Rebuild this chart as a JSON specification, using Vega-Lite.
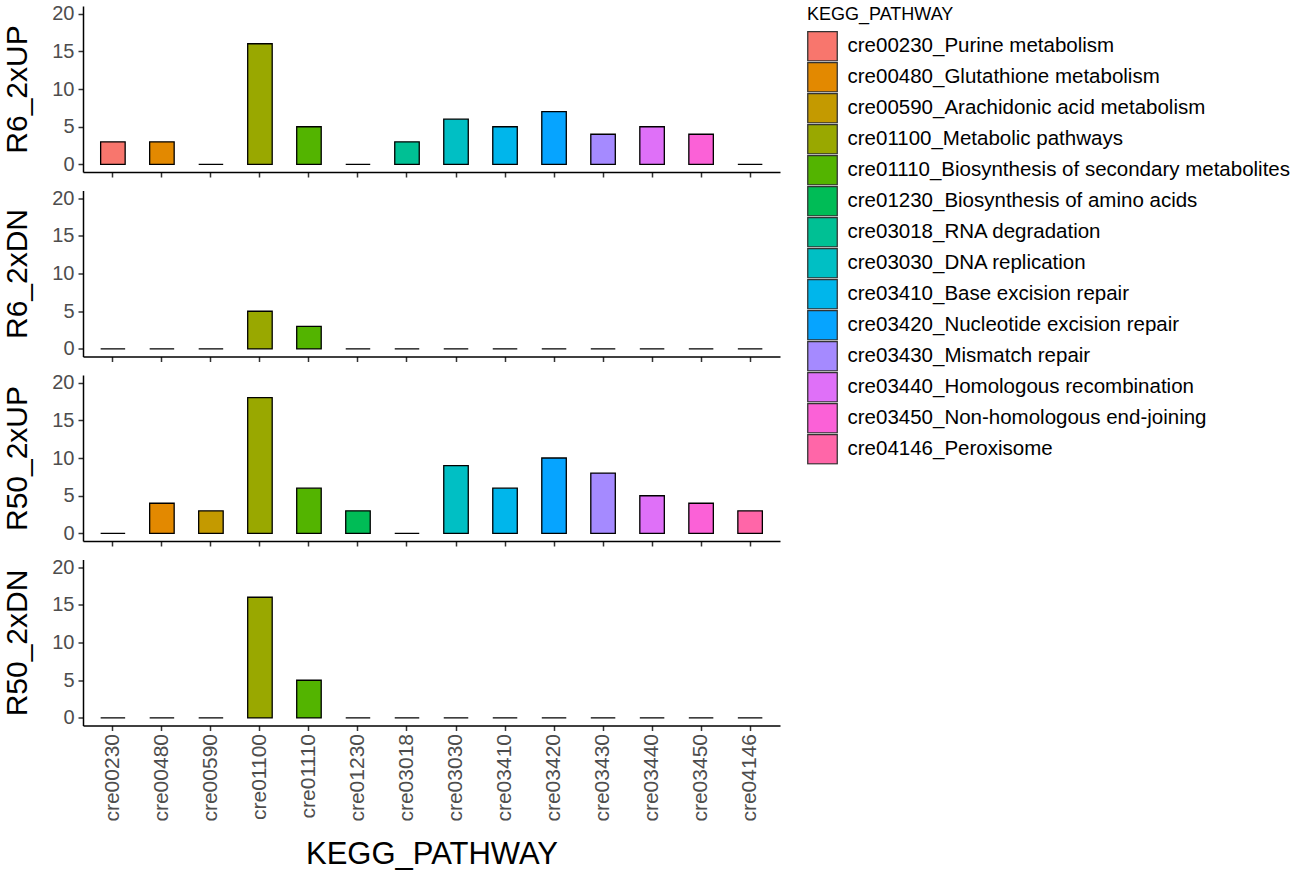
{
  "$schema": "https://vega.github.io/schema/vega-lite/v6.json",
  "background": "white",
  "padding": {"left": 2, "top": 3, "right": 5, "bottom": 3},
  "spacing": 9.5,
  "datasets": {
    "counts": [
      {"group": "R6_2xUP", "code": "cre00230", "pathway": "cre00230_Purine metabolism", "n": 3},
      {"group": "R6_2xUP", "code": "cre00480", "pathway": "cre00480_Glutathione metabolism", "n": 3},
      {"group": "R6_2xUP", "code": "cre00590", "pathway": "cre00590_Arachidonic acid metabolism", "n": 0},
      {"group": "R6_2xUP", "code": "cre01100", "pathway": "cre01100_Metabolic pathways", "n": 16},
      {"group": "R6_2xUP", "code": "cre01110", "pathway": "cre01110_Biosynthesis of secondary metabolites", "n": 5},
      {"group": "R6_2xUP", "code": "cre01230", "pathway": "cre01230_Biosynthesis of amino acids", "n": 0},
      {"group": "R6_2xUP", "code": "cre03018", "pathway": "cre03018_RNA degradation", "n": 3},
      {"group": "R6_2xUP", "code": "cre03030", "pathway": "cre03030_DNA replication", "n": 6},
      {"group": "R6_2xUP", "code": "cre03410", "pathway": "cre03410_Base excision repair", "n": 5},
      {"group": "R6_2xUP", "code": "cre03420", "pathway": "cre03420_Nucleotide excision repair", "n": 7},
      {"group": "R6_2xUP", "code": "cre03430", "pathway": "cre03430_Mismatch repair", "n": 4},
      {"group": "R6_2xUP", "code": "cre03440", "pathway": "cre03440_Homologous recombination", "n": 5},
      {"group": "R6_2xUP", "code": "cre03450", "pathway": "cre03450_Non-homologous end-joining", "n": 4},
      {"group": "R6_2xUP", "code": "cre04146", "pathway": "cre04146_Peroxisome", "n": 0},

      {"group": "R6_2xDN", "code": "cre00230", "pathway": "cre00230_Purine metabolism", "n": 0},
      {"group": "R6_2xDN", "code": "cre00480", "pathway": "cre00480_Glutathione metabolism", "n": 0},
      {"group": "R6_2xDN", "code": "cre00590", "pathway": "cre00590_Arachidonic acid metabolism", "n": 0},
      {"group": "R6_2xDN", "code": "cre01100", "pathway": "cre01100_Metabolic pathways", "n": 5},
      {"group": "R6_2xDN", "code": "cre01110", "pathway": "cre01110_Biosynthesis of secondary metabolites", "n": 3},
      {"group": "R6_2xDN", "code": "cre01230", "pathway": "cre01230_Biosynthesis of amino acids", "n": 0},
      {"group": "R6_2xDN", "code": "cre03018", "pathway": "cre03018_RNA degradation", "n": 0},
      {"group": "R6_2xDN", "code": "cre03030", "pathway": "cre03030_DNA replication", "n": 0},
      {"group": "R6_2xDN", "code": "cre03410", "pathway": "cre03410_Base excision repair", "n": 0},
      {"group": "R6_2xDN", "code": "cre03420", "pathway": "cre03420_Nucleotide excision repair", "n": 0},
      {"group": "R6_2xDN", "code": "cre03430", "pathway": "cre03430_Mismatch repair", "n": 0},
      {"group": "R6_2xDN", "code": "cre03440", "pathway": "cre03440_Homologous recombination", "n": 0},
      {"group": "R6_2xDN", "code": "cre03450", "pathway": "cre03450_Non-homologous end-joining", "n": 0},
      {"group": "R6_2xDN", "code": "cre04146", "pathway": "cre04146_Peroxisome", "n": 0},

      {"group": "R50_2xUP", "code": "cre00230", "pathway": "cre00230_Purine metabolism", "n": 0},
      {"group": "R50_2xUP", "code": "cre00480", "pathway": "cre00480_Glutathione metabolism", "n": 4},
      {"group": "R50_2xUP", "code": "cre00590", "pathway": "cre00590_Arachidonic acid metabolism", "n": 3},
      {"group": "R50_2xUP", "code": "cre01100", "pathway": "cre01100_Metabolic pathways", "n": 18},
      {"group": "R50_2xUP", "code": "cre01110", "pathway": "cre01110_Biosynthesis of secondary metabolites", "n": 6},
      {"group": "R50_2xUP", "code": "cre01230", "pathway": "cre01230_Biosynthesis of amino acids", "n": 3},
      {"group": "R50_2xUP", "code": "cre03018", "pathway": "cre03018_RNA degradation", "n": 0},
      {"group": "R50_2xUP", "code": "cre03030", "pathway": "cre03030_DNA replication", "n": 9},
      {"group": "R50_2xUP", "code": "cre03410", "pathway": "cre03410_Base excision repair", "n": 6},
      {"group": "R50_2xUP", "code": "cre03420", "pathway": "cre03420_Nucleotide excision repair", "n": 10},
      {"group": "R50_2xUP", "code": "cre03430", "pathway": "cre03430_Mismatch repair", "n": 8},
      {"group": "R50_2xUP", "code": "cre03440", "pathway": "cre03440_Homologous recombination", "n": 5},
      {"group": "R50_2xUP", "code": "cre03450", "pathway": "cre03450_Non-homologous end-joining", "n": 4},
      {"group": "R50_2xUP", "code": "cre04146", "pathway": "cre04146_Peroxisome", "n": 3},

      {"group": "R50_2xDN", "code": "cre00230", "pathway": "cre00230_Purine metabolism", "n": 0},
      {"group": "R50_2xDN", "code": "cre00480", "pathway": "cre00480_Glutathione metabolism", "n": 0},
      {"group": "R50_2xDN", "code": "cre00590", "pathway": "cre00590_Arachidonic acid metabolism", "n": 0},
      {"group": "R50_2xDN", "code": "cre01100", "pathway": "cre01100_Metabolic pathways", "n": 16},
      {"group": "R50_2xDN", "code": "cre01110", "pathway": "cre01110_Biosynthesis of secondary metabolites", "n": 5},
      {"group": "R50_2xDN", "code": "cre01230", "pathway": "cre01230_Biosynthesis of amino acids", "n": 0},
      {"group": "R50_2xDN", "code": "cre03018", "pathway": "cre03018_RNA degradation", "n": 0},
      {"group": "R50_2xDN", "code": "cre03030", "pathway": "cre03030_DNA replication", "n": 0},
      {"group": "R50_2xDN", "code": "cre03410", "pathway": "cre03410_Base excision repair", "n": 0},
      {"group": "R50_2xDN", "code": "cre03420", "pathway": "cre03420_Nucleotide excision repair", "n": 0},
      {"group": "R50_2xDN", "code": "cre03430", "pathway": "cre03430_Mismatch repair", "n": 0},
      {"group": "R50_2xDN", "code": "cre03440", "pathway": "cre03440_Homologous recombination", "n": 0},
      {"group": "R50_2xDN", "code": "cre03450", "pathway": "cre03450_Non-homologous end-joining", "n": 0},
      {"group": "R50_2xDN", "code": "cre04146", "pathway": "cre04146_Peroxisome", "n": 0}
    ]
  },
  "data": {"name": "counts"},
  "vconcat": [
    {
      "transform": [{"filter": "datum.group === 'R6_2xUP'"}],
      "width": 697, "height": 166,
      "mark": {"type": "bar", "stroke": "black", "strokeWidth": 1.3},
      "encoding": {
        "x": {"field": "code", "type": "nominal",
              "scale": {"domain": ["cre00230","cre00480","cre00590","cre01100","cre01110","cre01230","cre03018","cre03030","cre03410","cre03420","cre03430","cre03440","cre03450","cre04146"], "paddingInner": 0.5, "paddingOuter": 0.36},
              "axis": {"labels": false, "title": null}},
        "y": {"field": "n", "type": "quantitative", "scale": {"domain": [-1, 21], "nice": false, "zero": false},
              "axis": {"title": "R6_2xUP", "values": [0, 5, 10, 15, 20]}},
        "fill": {"field": "pathway", "type": "nominal", "title": "KEGG_PATHWAY",
                 "scale": {"domain": ["cre00230_Purine metabolism","cre00480_Glutathione metabolism","cre00590_Arachidonic acid metabolism","cre01100_Metabolic pathways","cre01110_Biosynthesis of secondary metabolites","cre01230_Biosynthesis of amino acids","cre03018_RNA degradation","cre03030_DNA replication","cre03410_Base excision repair","cre03420_Nucleotide excision repair","cre03430_Mismatch repair","cre03440_Homologous recombination","cre03450_Non-homologous end-joining","cre04146_Peroxisome"],
                           "range": ["#F8766D","#E38900","#C49A00","#99A800","#53B400","#00BC56","#00C094","#00BFC4","#00B6EB","#06A4FF","#A58AFF","#DF70F8","#FB61D7","#FF66A8"]}}
      }
    },
    {
      "transform": [{"filter": "datum.group === 'R6_2xDN'"}],
      "width": 697, "height": 166,
      "mark": {"type": "bar", "stroke": "black", "strokeWidth": 1.3},
      "encoding": {
        "x": {"field": "code", "type": "nominal",
              "scale": {"domain": ["cre00230","cre00480","cre00590","cre01100","cre01110","cre01230","cre03018","cre03030","cre03410","cre03420","cre03430","cre03440","cre03450","cre04146"], "paddingInner": 0.5, "paddingOuter": 0.36},
              "axis": {"labels": false, "title": null}},
        "y": {"field": "n", "type": "quantitative", "scale": {"domain": [-1, 21], "nice": false, "zero": false},
              "axis": {"title": "R6_2xDN", "values": [0, 5, 10, 15, 20]}},
        "fill": {"field": "pathway", "type": "nominal", "title": "KEGG_PATHWAY",
                 "scale": {"domain": ["cre00230_Purine metabolism","cre00480_Glutathione metabolism","cre00590_Arachidonic acid metabolism","cre01100_Metabolic pathways","cre01110_Biosynthesis of secondary metabolites","cre01230_Biosynthesis of amino acids","cre03018_RNA degradation","cre03030_DNA replication","cre03410_Base excision repair","cre03420_Nucleotide excision repair","cre03430_Mismatch repair","cre03440_Homologous recombination","cre03450_Non-homologous end-joining","cre04146_Peroxisome"],
                           "range": ["#F8766D","#E38900","#C49A00","#99A800","#53B400","#00BC56","#00C094","#00BFC4","#00B6EB","#06A4FF","#A58AFF","#DF70F8","#FB61D7","#FF66A8"]}}
      }
    },
    {
      "transform": [{"filter": "datum.group === 'R50_2xUP'"}],
      "width": 697, "height": 166,
      "mark": {"type": "bar", "stroke": "black", "strokeWidth": 1.3},
      "encoding": {
        "x": {"field": "code", "type": "nominal",
              "scale": {"domain": ["cre00230","cre00480","cre00590","cre01100","cre01110","cre01230","cre03018","cre03030","cre03410","cre03420","cre03430","cre03440","cre03450","cre04146"], "paddingInner": 0.5, "paddingOuter": 0.36},
              "axis": {"labels": false, "title": null}},
        "y": {"field": "n", "type": "quantitative", "scale": {"domain": [-1, 21], "nice": false, "zero": false},
              "axis": {"title": "R50_2xUP", "values": [0, 5, 10, 15, 20]}},
        "fill": {"field": "pathway", "type": "nominal", "title": "KEGG_PATHWAY",
                 "scale": {"domain": ["cre00230_Purine metabolism","cre00480_Glutathione metabolism","cre00590_Arachidonic acid metabolism","cre01100_Metabolic pathways","cre01110_Biosynthesis of secondary metabolites","cre01230_Biosynthesis of amino acids","cre03018_RNA degradation","cre03030_DNA replication","cre03410_Base excision repair","cre03420_Nucleotide excision repair","cre03430_Mismatch repair","cre03440_Homologous recombination","cre03450_Non-homologous end-joining","cre04146_Peroxisome"],
                           "range": ["#F8766D","#E38900","#C49A00","#99A800","#53B400","#00BC56","#00C094","#00BFC4","#00B6EB","#06A4FF","#A58AFF","#DF70F8","#FB61D7","#FF66A8"]}}
      }
    },
    {
      "transform": [{"filter": "datum.group === 'R50_2xDN'"}],
      "width": 697, "height": 166,
      "mark": {"type": "bar", "stroke": "black", "strokeWidth": 1.3},
      "encoding": {
        "x": {"field": "code", "type": "nominal",
              "scale": {"domain": ["cre00230","cre00480","cre00590","cre01100","cre01110","cre01230","cre03018","cre03030","cre03410","cre03420","cre03430","cre03440","cre03450","cre04146"], "paddingInner": 0.5, "paddingOuter": 0.36},
              "axis": {"title": "KEGG_PATHWAY", "labelAngle": -90, "labelFontSize": 21, "labelPadding": 3, "titleFontSize": 31, "titlePadding": 18}},
        "y": {"field": "n", "type": "quantitative", "scale": {"domain": [-1, 21], "nice": false, "zero": false},
              "axis": {"title": "R50_2xDN", "values": [0, 5, 10, 15, 20]}},
        "fill": {"field": "pathway", "type": "nominal", "title": "KEGG_PATHWAY",
                 "scale": {"domain": ["cre00230_Purine metabolism","cre00480_Glutathione metabolism","cre00590_Arachidonic acid metabolism","cre01100_Metabolic pathways","cre01110_Biosynthesis of secondary metabolites","cre01230_Biosynthesis of amino acids","cre03018_RNA degradation","cre03030_DNA replication","cre03410_Base excision repair","cre03420_Nucleotide excision repair","cre03430_Mismatch repair","cre03440_Homologous recombination","cre03450_Non-homologous end-joining","cre04146_Peroxisome"],
                           "range": ["#F8766D","#E38900","#C49A00","#99A800","#53B400","#00BC56","#00C094","#00BFC4","#00B6EB","#06A4FF","#A58AFF","#DF70F8","#FB61D7","#FF66A8"]}}
      }
    }
  ],
  "config": {
    "font": "Liberation Sans",
    "view": {"stroke": null},
    "axis": {
      "grid": false,
      "domainColor": "black",
      "domainWidth": 1.5,
      "tickColor": "#333333",
      "tickWidth": 1.5,
      "tickSize": 5,
      "labelColor": "#4D4D4D",
      "labelFont": "Liberation Sans",
      "labelFontSize": 20,
      "labelPadding": 4,
      "titleFont": "Liberation Sans",
      "titleColor": "black",
      "titleFontWeight": "normal",
      "titleFontSize": 30,
      "titlePadding": 19
    },
    "legend": {
      "offset": 27,
      "titleFont": "Liberation Sans",
      "titleFontSize": 18,
      "titleFontWeight": "normal",
      "titleColor": "black",
      "titlePadding": 7,
      "labelFont": "Liberation Sans",
      "labelFontSize": 20.5,
      "labelColor": "black",
      "labelLimit": 600,
      "labelOffset": 9.5,
      "symbolType": "square",
      "symbolSize": 870,
      "symbolStrokeColor": "#333333",
      "symbolStrokeWidth": 1.3,
      "symbolOpacity": 1,
      "clipHeight": 30.5,
      "rowPadding": 0
    }
  }
}
